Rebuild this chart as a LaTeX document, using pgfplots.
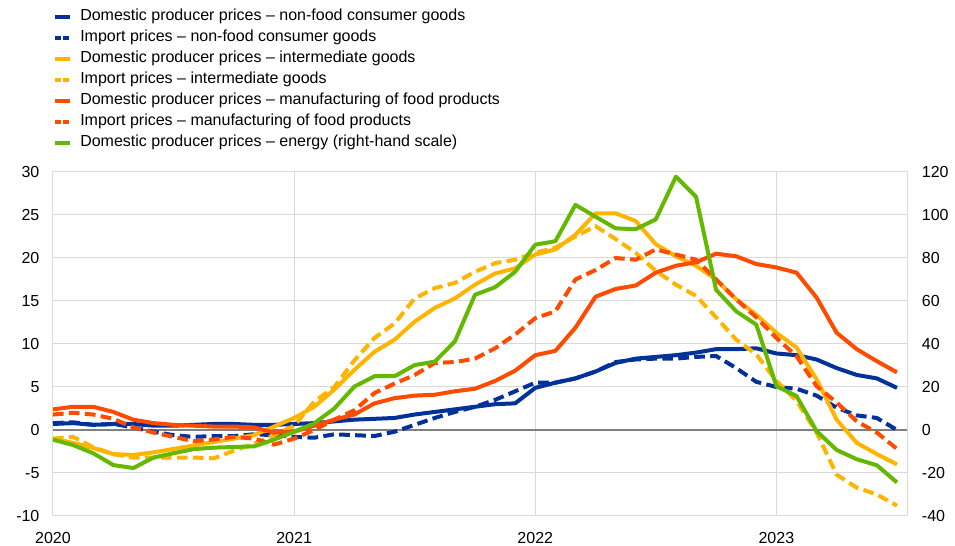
\documentclass[border=0pt]{standalone}
\usepackage{fontspec}
\setmainfont{Liberation Sans}
\usepackage{pgfplots}
\usepackage{pgfplotstable}
\pgfplotsset{compat=1.18}

\definecolor{ecbblue}{RGB}{0,50,153}
\definecolor{ecbyellow}{RGB}{255,180,0}
\definecolor{ecborange}{RGB}{255,75,0}
\definecolor{ecbgreen}{RGB}{101,184,0}
\definecolor{gridgrey}{RGB}{217,217,217}

% months since Jan 2020; energy is on the right-hand scale
\pgfplotstableread{
m  dnf  inf   dint  iint  dfood ifood energy
0  0.7  0.8   -1.0  -1.0  2.4   1.8   -4.5
1  0.8  0.9   -1.5  -0.8  2.7   2.0   -7.0
2  0.6  0.6   -2.1  -2.0  2.7   1.8   -10.8
3  0.7  0.7   -2.8  -2.8  2.1   1.3   -16.3
4  0.7  0.3   -2.9  -3.2  1.2   0.3   -17.7
5  0.5  -0.2  -2.6  -3.2  0.8   -0.3  -12.8
6  0.5  -0.6  -2.2  -3.2  0.6   -0.8  -10.8
7  0.6  -0.8  -1.8  -3.2  0.5   -1.3  -8.9
8  0.7  -0.7  -1.4  -3.3  0.4   -1.1  -8.2
9  0.7  -0.7  -1.0  -2.4  0.4   -0.8  -7.9
10 0.6  -0.5  -0.6  -1.6  0.3   -1.0  -7.6
11 0.6  -0.6  0.4   -0.6  -0.3  -1.7  -4.5
12 0.7  -0.8  1.4   0.5   -0.2  -1.0  -0.8
13 0.8  -0.9  2.7   3.3   0.5   0.0   3.1
14 1.0  -0.5  4.7   5.0   1.2   1.2   10.0
15 1.2  -0.6  7.0   8.1   1.8   2.3   20.2
16 1.3  -0.7  9.1   10.7  3.1   4.3   25.0
17 1.4  -0.2  10.5  12.4  3.7   5.4   25.0
18 1.8  0.6   12.6  15.3  4.0   6.4   30.2
19 2.1  1.4   14.2  16.5  4.1   7.8   31.8
20 2.4  2.1   15.3  17.1  4.5   7.9   41.2
21 2.7  2.7   16.9  18.4  4.8   8.3   62.9
22 3.0  3.5   18.2  19.4  5.7   9.5   66.4
23 3.1  4.5   18.8  19.8  6.9   11.1  73.6
24 4.9  5.5   20.4  20.6  8.7   13.0  86.2
25 5.5  5.5   21.0  21.2  9.2   13.8  87.8
26 6.0  6.0   22.7  22.5  11.9  17.5  104.7
27 6.8  6.8   25.2  23.7  15.5  18.6  99.2
28 7.8  7.9   25.2  22.2  16.4  20.0  93.8
29 8.3  8.2   24.3  20.6  16.8  19.8  93.4
30 8.5  8.3   21.6  18.5  18.3  21.0  98.0
31 8.7  8.3   20.2  16.9  19.1  20.4  117.8
32 9.0  8.5   19.1  15.6  19.5  19.8  108.5
33 9.4  8.6   17.5  13.1  20.5  17.5  65.2
34 9.4  7.2   15.2  10.5  20.2  15.2  55.2
35 9.5  5.6   13.4  8.8   19.3  13.1  49.0
36 8.9  5.0   11.3  5.7   18.9  10.7  20.4
37 8.7  4.8   9.6   3.4   18.3  8.6   15.8
38 8.2  4.0   5.9   -0.3  15.4  5.1   -0.5
39 7.2  2.6   1.2   -5.2  11.3  3.2   -9.3
40 6.4  1.7   -1.5  -6.7  9.4   1.0   -13.6
41 6.0  1.4   -2.8  -7.5  8.0   -0.3  -16.4
42 4.9  0.0   -4.0  -8.8  6.7   -2.2  -24.4
}\prices

\pgfplotsset{
  ecbaxis/.style={
    scale only axis, width=640.5pt, height=258pt,
    xmin=0, xmax=42.5,
    xtick={0,12,24,36}, xticklabels={2020,2021,2022,2023},
    major tick length=0pt,
    tick label style={font=\fontsize{12}{14}\selectfont},
    /pgf/number format/assume math mode=true,
    axis line style={draw=gridgrey, line width=0.75pt},
  },
  sol/.style={line width=3pt, line join=round},
  dsh/.style={line width=3pt, dash pattern=on 8pt off 4pt,
    legend image post style={dash pattern=on 4pt off 2pt}},
}

\begin{document}
\begin{tikzpicture}
\begin{axis}[
  ecbaxis, name=main,
  ymin=-10, ymax=30, ytick distance=5,
  grid=major, grid style={draw=gridgrey, line width=0.75pt},
  extra y ticks={0}, extra y tick labels={},
  extra y tick style={grid style={draw=black!50, line width=0.9pt}},
  yticklabel style={inner sep=0pt, xshift=-10pt},
  xticklabel style={inner sep=0pt, anchor=north, yshift=-12pt},
  legend cell align=left,
  legend image code/.code={\draw[#1, line width=3pt] (0pt,0pt) -- (11.25pt,0pt);},
  legend style={at={(0,1.4747)}, anchor=north west, draw=none, fill=none,
    inner sep=0pt, row sep=4.25pt,
    font=\fontsize{12}{14}\selectfont,
    nodes={inner sep=0pt, text height=9pt, text depth=2.5pt},
    /tikz/every odd column/.append style={column sep=6pt}},
]
\addplot[sol, ecbblue] table[x=m, y=dnf] {\prices};
\addlegendentry{Domestic producer prices – non-food consumer goods}
\addplot[dsh, ecbblue] table[x=m, y=inf] {\prices};
\addlegendentry{Import prices – non-food consumer goods}
\addplot[sol, ecbyellow] table[x=m, y=dint] {\prices};
\addlegendentry{Domestic producer prices – intermediate goods}
\addplot[dsh, ecbyellow] table[x=m, y=iint] {\prices};
\addlegendentry{Import prices – intermediate goods}
\addplot[sol, ecborange] table[x=m, y=dfood] {\prices};
\addlegendentry{Domestic producer prices – manufacturing of food products}
\addplot[dsh, ecborange] table[x=m, y=ifood] {\prices};
\addlegendentry{Import prices – manufacturing of food products}
\addlegendimage{ecbgreen}
\addlegendentry{Domestic producer prices – energy (right-hand scale)}
\end{axis}

\begin{axis}[
  ecbaxis,
  ymin=-40, ymax=120, ytick distance=20,
  axis x line=none, axis y line*=right,
  yticklabel style={inner sep=0pt, xshift=11pt},
]
\addplot[sol, ecbgreen] table[x=m, y=energy] {\prices};
\end{axis}

\pgfresetboundingbox
\path[use as bounding box] ([shift={(-39.75pt,-22.5pt)}]main.south west)
  rectangle ([shift={(36pt,129pt)}]main.north east);
\end{tikzpicture}
\end{document}
